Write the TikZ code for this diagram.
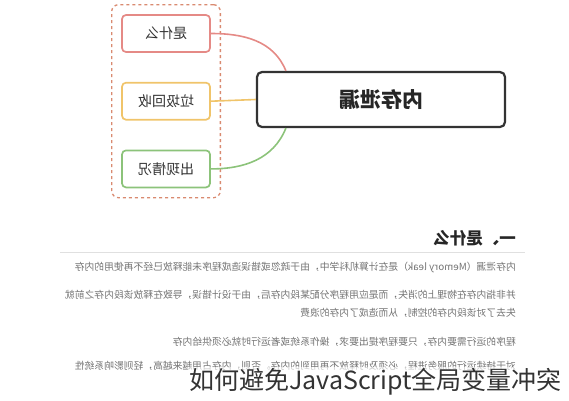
\documentclass[tikz,border=0pt]{standalone}
\usepackage{fontspec}
\setmainfont{Noto Sans CJK SC}
\usetikzlibrary{positioning,fit,calc}

\definecolor{kidred}{HTML}{E58A86}
\definecolor{kidyellow}{HTML}{F0C46A}
\definecolor{kidgreen}{HTML}{8CC37A}
\definecolor{framecol}{HTML}{D98A70}
\definecolor{hubcol}{HTML}{333333}

\begin{document}
\begin{tikzpicture}[
    x=1pt, y=-1pt,
    kid/.style={draw, fill=white, rounded corners=4pt, line width=1.7pt,
                minimum width=88pt, minimum height=37pt, inner sep=2pt,
                font=\fontsize{14}{16}\selectfont, text=black!80},
    hub/.style={draw=hubcol, fill=white, rounded corners=5pt, line width=2.2pt,
                minimum width=248pt, minimum height=55pt, inner sep=2pt,
                font=\fontsize{21}{24}\selectfont\bfseries, text=black!85},
    grp/.style={draw=framecol, dashed, rounded corners=7pt, line width=1.3pt,
                inner sep=9.5pt},
    link/.style={line width=1.6pt},
    txt/.style={anchor=east, inner sep=0pt, text=black!55,
                font=\fontsize{9.8}{12}\selectfont},
  ]
  \useasboundingbox (0,0) rectangle (569,400);

  % --- central topic ---
  \node[hub] (leak) at (381,99.5) {\reflectbox{内存泄漏}};

  % --- three branches (left) ---
  \node[kid, draw=kidred] (what) at (166,33.5) {\reflectbox{是什么}};
  \node[kid, draw=kidyellow, below=29pt of what] (gc) {\reflectbox{垃圾回收}};
  \node[kid, draw=kidgreen, below=29pt of gc] (cases) {\reflectbox{出现情况}};
  \node[grp, fit=(what)(gc)(cases)] (box) {};

  \draw[link, kidred] (what.east) to[out=0, in=112] ([xshift=30pt]leak.north west);
  \draw[link, kidyellow] (gc.east) -- (leak.west);
  \draw[link, kidgreen] (cases.east) to[out=0, in=-112] ([xshift=30pt]leak.south west);

  % --- article text below ---
  \node[anchor=east, inner sep=0pt, text=black!85,
        font=\fontsize{16.5}{18}\selectfont\bfseries] (head) at (516,238)
    {\reflectbox{一、是什么}};
  \draw[black!12, line width=0.8pt] (60,252) -- (525,252);

  \node[txt] (l1) at (516,267)
    {\reflectbox{内存泄漏（Memory leak）是在计算机科学中，由于疏忽或错误造成程序未能释放已经不再使用的内存}};
  \node[txt] (l2) at (516,295)
    {\reflectbox{并非指内存在物理上的消失，而是应用程序分配某段内存后，由于设计错误，导致在释放该段内存之前就}};
  \node[txt] (l3) at (516,313)
    {\reflectbox{失去了对该段内存的控制，从而造成了内存的浪费}};
  \node[txt] (l4) at (516,342)
    {\reflectbox{程序的运行需要内存，只要程序提出要求，操作系统或者运行时就必须供给内存}};
  \node[txt] (l5) at (516,366)
    {\reflectbox{对于持续运行的服务进程，必须及时释放不再用到的内存。否则，内存占用越来越高，轻则影响系统性}};

  % --- caption ---
  \node[anchor=base east, inner sep=1pt, fill=white, fill opacity=0.6,
        text opacity=1, text=black!80, font=\fontsize{25}{28}\selectfont]
    (cap) at (563,389) {如何避免JavaScript全局变量冲突};
\end{tikzpicture}
\end{document}
